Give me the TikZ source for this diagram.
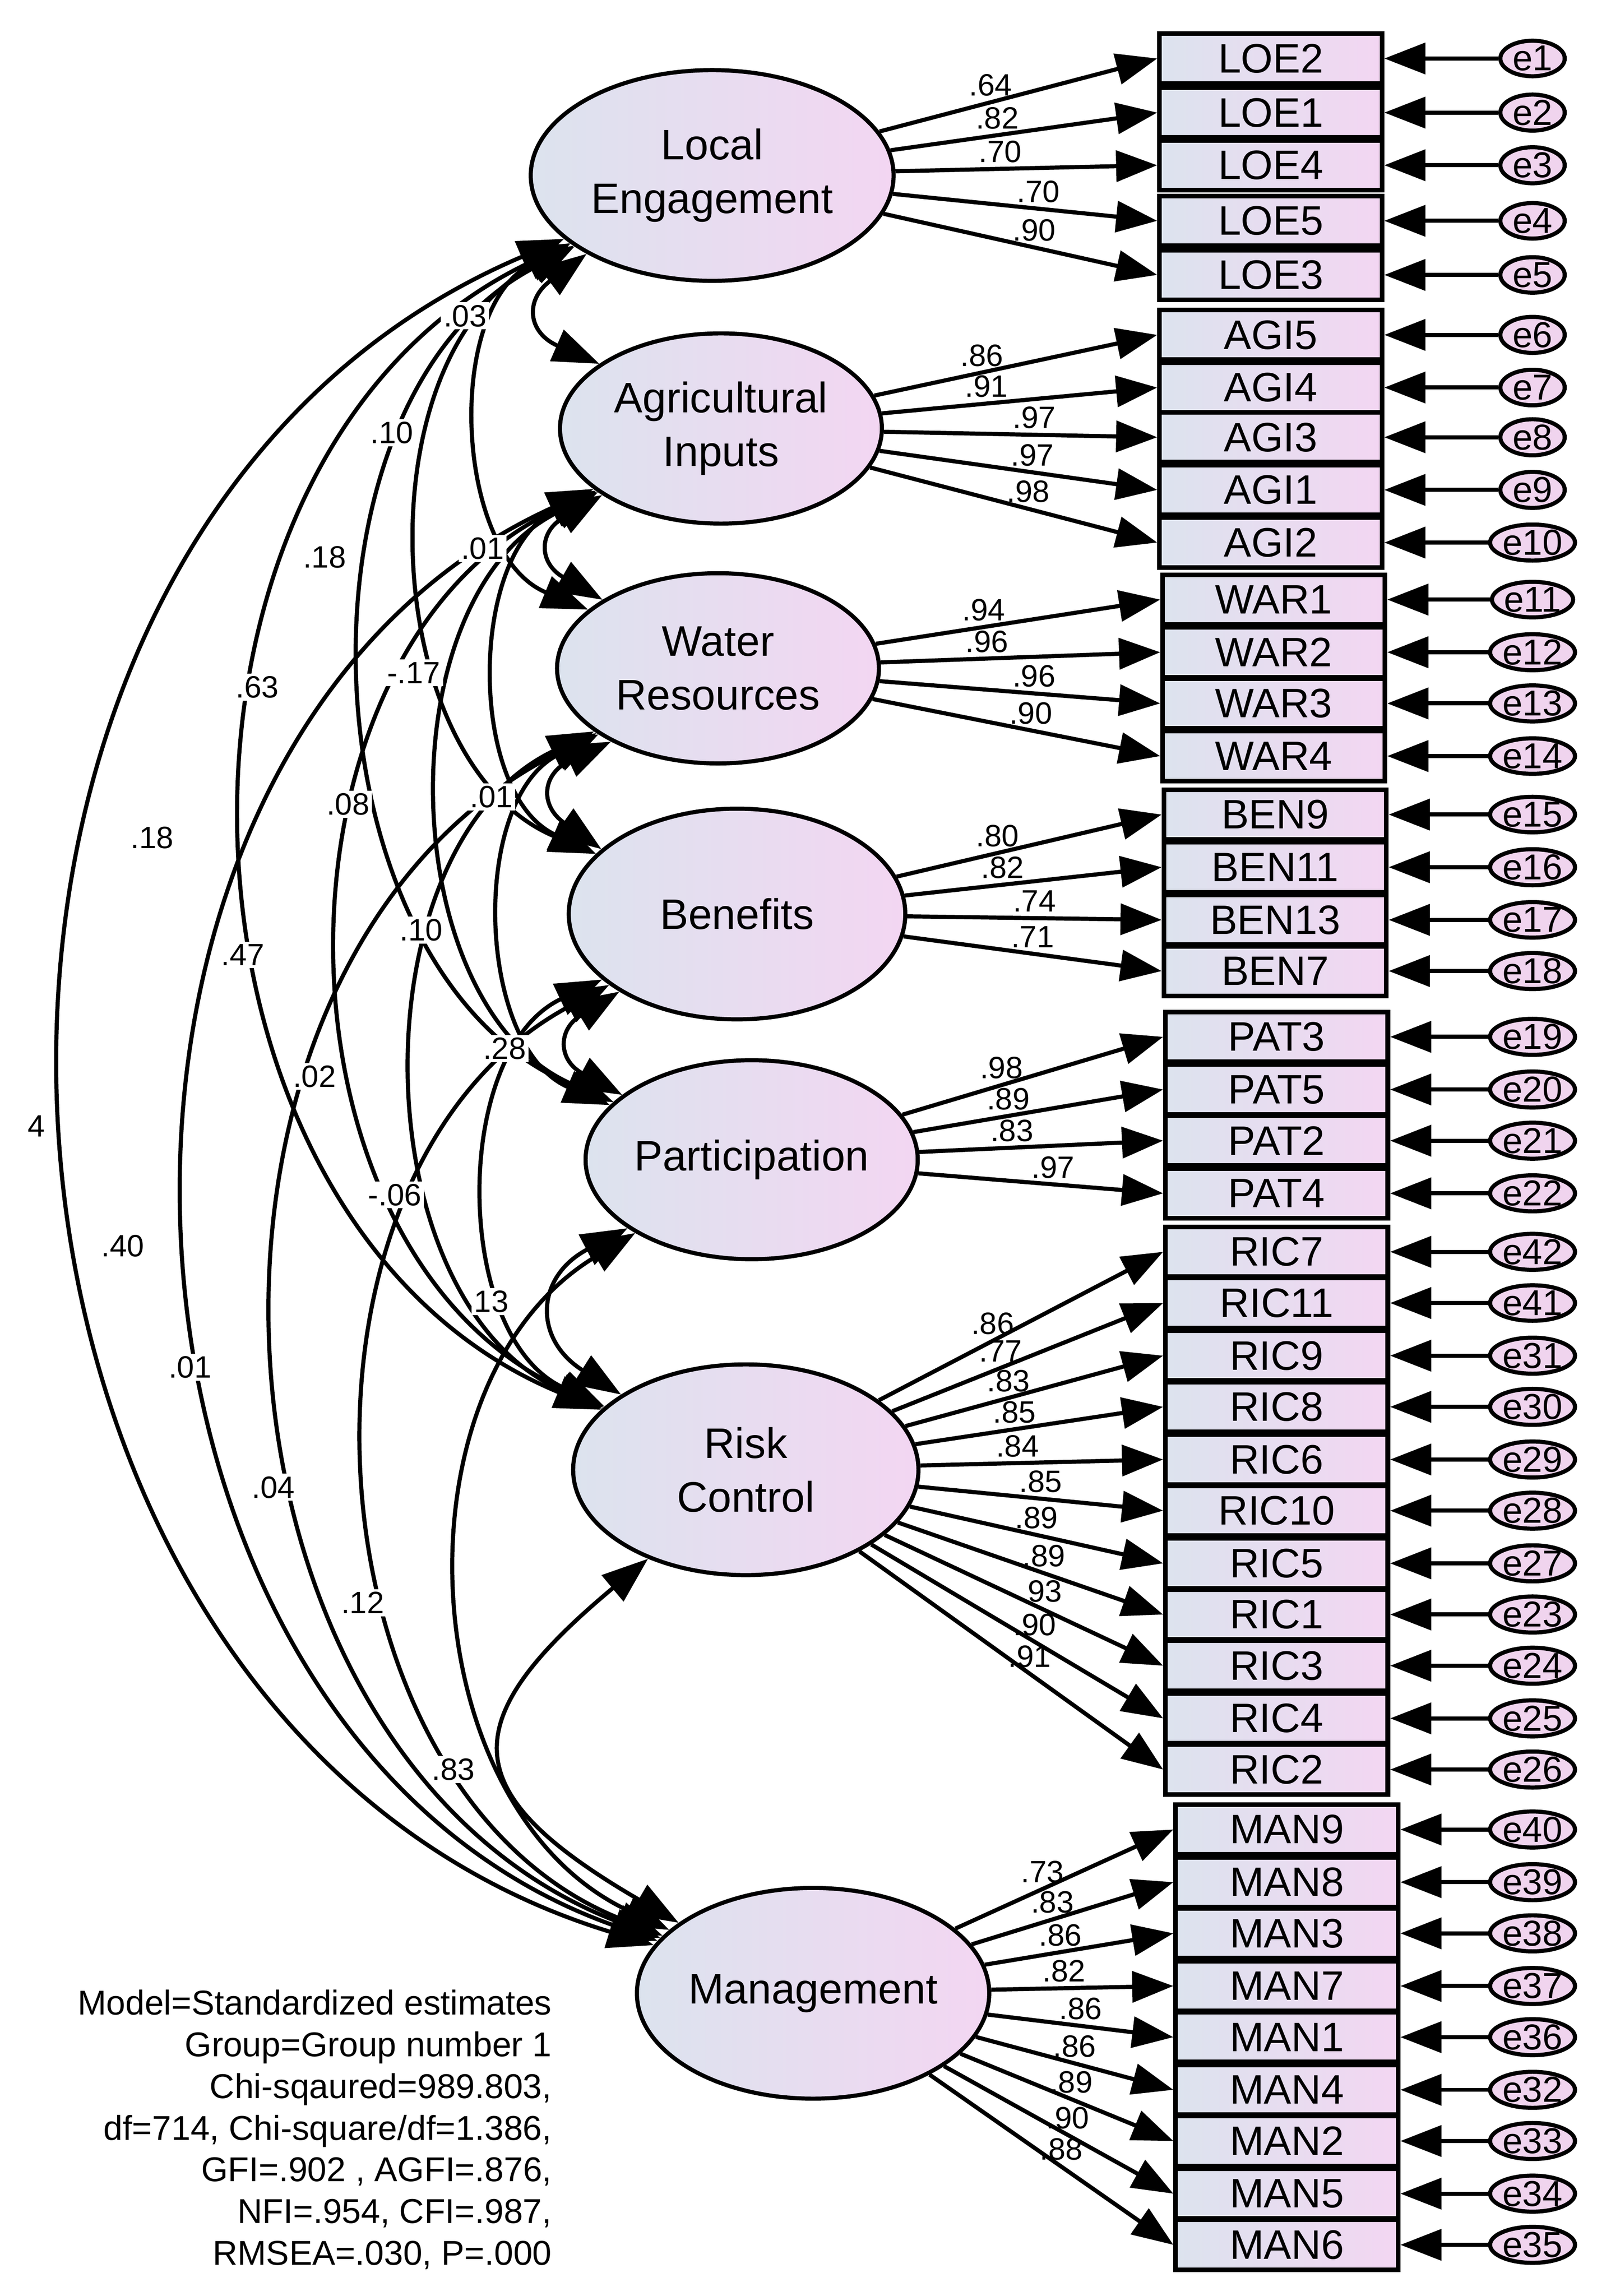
\documentclass[tikz,border=0pt]{standalone}
\usepackage{fontspec}
\setmainfont{Liberation Sans}
\usetikzlibrary{shapes.geometric,arrows.meta}
\definecolor{cl}{HTML}{DCE3EE}
\definecolor{cr}{HTML}{F3D6F2}
\definecolor{ep}{HTML}{F0D4EE}
\begin{document}
\begin{tikzpicture}[x=0.01cm,y=-0.01cm,
  tip/.style={-{Triangle[length=8pt,width=6pt]}},
  lat/.style={ellipse,draw,line width=0.8pt,left color=cl,right color=cr,align=center,font=\fontsize{8.3}{10.5}\selectfont,inner sep=0pt},
  obs/.style={rectangle,draw,line width=0.9pt,left color=cl,right color=cr,minimum width=1.52cm,minimum height=0.34cm,inner sep=0pt,font=\fontsize{8}{9}\selectfont},
  err/.style={ellipse,draw,line width=0.8pt,fill=ep,minimum width=0.44cm,minimum height=0.24cm,inner sep=0pt,font=\fontsize{7}{8}\selectfont},
  ld/.style={font=\fontsize{6}{7}\selectfont,inner sep=0.8pt},
  cv/.style={{Triangle[length=9pt,width=6.5pt]}-{Triangle[length=9pt,width=6.5pt]},line width=0.8pt},
  cl/.style={font=\fontsize{6}{7}\selectfont,inner sep=0pt}]
\useasboundingbox (0,0) rectangle (1092,1570);
\fill[white] (0,0) rectangle (1092,1570);

\node[lat,minimum width=2.48cm,minimum height=1.44cm] (LE) at (487,120) {Local\\Engagement};
\node[lat,minimum width=2.2cm,minimum height=1.3cm] (AI) at (493,293) {Agricultural\\Inputs};
\node[lat,minimum width=2.2cm,minimum height=1.3cm] (WR) at (491,457) {Water\\Resources};
\node[lat,minimum width=2.3cm,minimum height=1.44cm] (BE) at (504,625) {Benefits};
\node[lat,minimum width=2.2cm,minimum height=1.36cm] (PA) at (514,793) {Participation};
\node[lat,minimum width=2.36cm,minimum height=1.44cm] (RC) at (510,1005) {Risk\\Control};
\node[lat,minimum width=2.2cm,minimum height=1.44cm] (MA) at (556,1363) {Management};

\foreach \lat/\bx/\y/\xl/\er/\l/\p in {
 LE/LOE2/40/793/e1/.64/0.4, LE/LOE1/77/793/e2/.82/0.4, LE/LOE4/113/793/e3/.70/0.4, LE/LOE5/151/793/e4/.70/0.55, LE/LOE3/188/793/e5/.90/0.55,
 AI/AGI5/229/793/e6/.86/0.38, AI/AGI4/265/793/e7/.91/0.38, AI/AGI3/299/793/e8/.97/0.55, AI/AGI1/335/793/e9/.97/0.55, AI/AGI2/371/793/e10/.98/0.55,
 WR/WAR1/410/795/e11/.94/0.38, WR/WAR2/446/795/e12/.96/0.38, WR/WAR3/481/795/e13/.96/0.55, WR/WAR4/517/795/e14/.90/0.55,
 BE/BEN9/557/796/e15/.80/0.38, BE/BEN11/593/796/e16/.82/0.38, BE/BEN13/629/796/e17/.74/0.5, BE/BEN7/664/796/e18/.71/0.5,
 PA/PAT3/709/797/e19/.98/0.38, PA/PAT5/745/797/e20/.89/0.38, PA/PAT2/780/797/e21/.83/0.38, PA/PAT4/816/797/e22/.97/0.55,
 RC/RIC7/856/797/e42/.86/0.4, RC/RIC11/891/797/e41/.77/0.4, RC/RIC9/927/797/e31/.83/0.4, RC/RIC8/962/797/e30/.85/0.4, RC/RIC6/998/797/e29/.84/0.4,
 RC/RIC10/1033/797/e28/.85/0.5, RC/RIC5/1069/797/e27/.89/0.5, RC/RIC1/1104/797/e23/.89/0.55, RC/RIC3/1139/797/e24/.93/0.56, RC/RIC4/1175/797/e25/.90/0.56, RC/RIC2/1210/797/e26/.91/0.56,
 MA/MAN9/1251/804/e40/.73/0.4, MA/MAN8/1287/804/e39/.83/0.4, MA/MAN3/1322/804/e38/.86/0.4, MA/MAN7/1358/804/e37/.82/0.4, MA/MAN1/1393/804/e36/.86/0.5,
 MA/MAN4/1429/804/e32/.86/0.5, MA/MAN2/1464/804/e33/.89/0.52, MA/MAN5/1500/804/e34/.90/0.54, MA/MAN6/1535/804/e35/.88/0.54}{
  \node[obs] (\bx) at (\xl+76,\y) {\bx};
  \node[err] (\er) at (1048,\y) {\er};
  \draw[tip,line width=0.8pt] (\er) -- (\bx.east);
  \draw[tip,line width=0.8pt] (\lat) -- node[ld,pos=\p,above] {\l} (\bx.west);
}

\foreach \a/\b/\bd/\lo in {LE/AI/60/1.8, AI/WR/60/1.8, WR/BE/60/1.8, BE/PA/60/1.8, PA/RC/60/1.6, RC/MA/55/1.8,
  LE/WR/65/1, AI/BE/65/1, WR/PA/65/1, BE/RC/65/1, PA/MA/62/1.05,
  LE/BE/65/1, AI/PA/65/1, WR/RC/65/1, BE/MA/65/1.05,
  LE/PA/65/1, AI/RC/65/1.05, WR/MA/66/1.08,
  LE/RC/66/1.08, AI/MA/68/1.1, LE/MA/70/1.15}{
  \draw[cv] (\a) to[bend right=\bd,looseness=\lo] (\b);
}

\foreach \t/\x/\y [count=\i] in {.03/318/216, .10/268/296, .18/222/381, .63/176/470, .18/104/573, 4/25/770,
  .01/330/375, -.17/283/460, .08/238/550, .47/166/653, .40/84/852,
  .01/336/545, .10/288/636, .02/215/736, .01/130/935,
  .28/345/717, -.06/270/817, .04/187/1017, 13/336/890, .12/248/1096, .83/310/1210}{
  \node[cl,fill=white,inner sep=0.5pt] (c\i) at (\x,\y) {\t};
}

\node[anchor=north east,align=right,font=\fontsize{6.7}{8.1}\selectfont,inner sep=0pt] (fit) at (378,1360)
 {Model=Standardized estimates\\Group=Group number 1\\Chi-sqaured=989.803,\\df=714, Chi-square/df=1.386,\\GFI=.902 , AGFI=.876,\\NFI=.954, CFI=.987,\\RMSEA=.030, P=.000};
\end{tikzpicture}
\end{document}
